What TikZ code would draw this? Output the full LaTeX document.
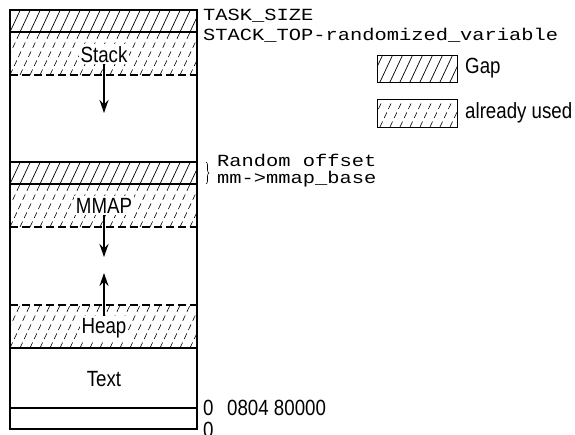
\documentclass[tikz,border=0pt]{standalone}
\usepackage{fontspec}
\usetikzlibrary{arrows.meta,decorations.pathreplacing}
\newfontfamily\condsans[FakeStretch=0.85]{Liberation Sans}
\newfontfamily\monofnt[FakeStretch=1.2]{Liberation Mono}
\tikzset{
  wall/.style = {line width=1.3pt},
  cut/.style = {line width=1.3pt, dash pattern=on 8pt off 4pt},
  gapline/.style = {line width=0.7pt},
  usedline/.style = {line width=0.6pt, dash pattern=on 6pt off 4pt},
  lbl/.style = {font=\condsans\fontsize{22}{22}\selectfont, inner sep=2pt, anchor=base},
  addr/.style = {font=\monofnt\fontsize{17}{17}\selectfont, inner sep=0pt, anchor=base west},
  arrow/.style = {line width=1.7pt, -{Stealth[length=13pt, width=9pt]}}
}
\newcommand{\hatchbox}[5]{%
  \begin{scope}
    \clip (#1,#2) rectangle (#3,#4);
    \foreach \hx in {-30,-20,...,460} \draw[#5] (\hx,#4) -- ++(22,-47);
  \end{scope}}

\begin{document}
\begin{tikzpicture}[x=1pt, y=-1pt]
        \clip (0,0) rectangle (575,434);
        \hatchbox{10}{10}{197}{32}{gapline}
        \hatchbox{10}{32}{197}{75}{usedline}
        \hatchbox{10}{162}{197}{184}{gapline}
        \hatchbox{10}{184}{197}{227}{usedline}
        \hatchbox{10}{305}{197}{348}{usedline}
        \draw[wall] (10,10) rectangle (197,429);
        \draw[wall] (10,32) -- (197,32);
        \draw[cut] (10,75) -- (197,75);
        \draw[wall] (10,162) -- (197,162);
        \draw[wall] (10,184) -- (197,184);
        \draw[cut] (10,227) -- (197,227);
        \draw[cut] (10,305) -- (197,305);
        \draw[wall] (10,348) -- (197,348);
        \draw[wall] (10,408) -- (197,408);
        \node[lbl, fill=white] (stack) at (104,62) {Stack};
        \node[lbl, fill=white] (mmap) at (104,213) {MMAP};
        \node[lbl, fill=white] (heap) at (104,333) {Heap};
        \node[lbl] (text) at (104,386) {Text};
        \coordinate (stackend) at (104,113);
        \coordinate (mmapend) at (104,257);
        \coordinate (heapend) at (104,273);
        \draw[arrow] (stack) -- (stackend);
        \draw[arrow] (mmap) -- (mmapend);
        \draw[arrow] (heap) -- (heapend);
        \node[addr] (tasksize) at (203,20) {TASK\_SIZE};
        \node[addr] (stacktop) at (203,40) {STACK\_TOP-randomized\_variable};
        \node[addr] (randoff) at (217,166) {Random offset};
        \node[addr] (mmapbase) at (217,183) {mm->mmap\_base};
        \draw[decorate, decoration={brace, amplitude=3pt}, line width=0.6pt] (206,162) -- (206,184);
        \hatchbox{377}{55}{457}{82}{gapline}
        \hatchbox{377}{99}{457}{127}{usedline}
        \draw[line width=1pt] (377,55) rectangle (457,82);
        \draw[line width=1pt] (377,99) rectangle (457,127);
        \node[lbl, anchor=base west, inner sep=0pt] (gaplbl) at (465,73) {Gap};
        \node[lbl, anchor=base west, inner sep=0pt] (usedlbl) at (465,118) {already used};
        \node[lbl, anchor=base west, inner sep=0pt] (zero) at (203,415) {0};
        \node[lbl, anchor=base west, inner sep=0pt] (textaddr) at (227,415) {0804 80000};
        \node[lbl, anchor=base west, inner sep=0pt] (zerob) at (203,437) {0};
    \end{tikzpicture}
\end{document}
